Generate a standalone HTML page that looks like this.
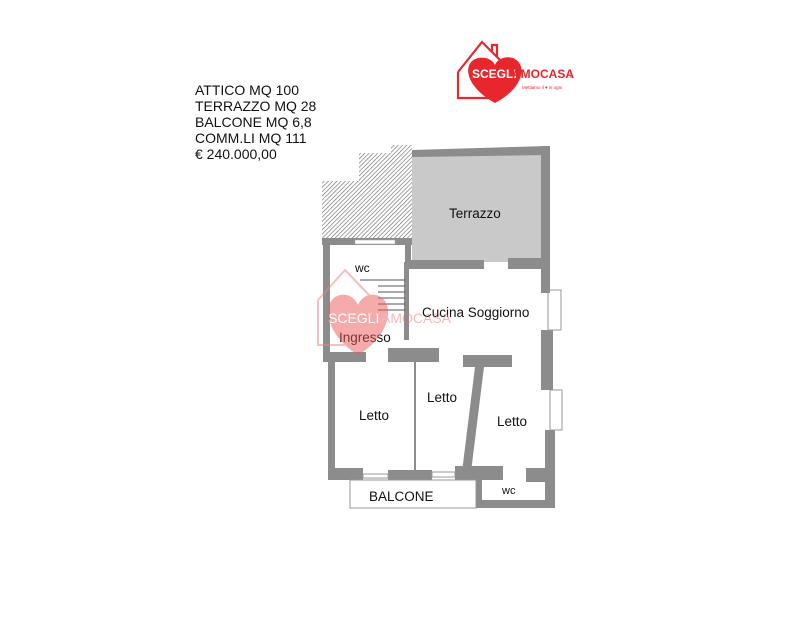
<!DOCTYPE html>
<html><head><meta charset="utf-8"><style>
body{margin:0;background:#fff;width:794px;height:630px;overflow:hidden;font-family:"Liberation Sans",Arial,sans-serif}
</style></head><body>
<svg width="794" height="630" viewBox="0 0 794 630" xmlns="http://www.w3.org/2000/svg" font-family="Liberation Sans, Arial, sans-serif">
<defs>
<pattern id="h" width="3" height="3" patternUnits="userSpaceOnUse" patternTransform="rotate(45)">
<rect width="3" height="3" fill="#fff"/><line x1="0" y1="0" x2="0" y2="3" stroke="#666" stroke-width="1.2"/>
</pattern>
</defs>
<g font-size="14" fill="#111">
<text x="195" y="95">ATTICO MQ 100</text>
<text x="195" y="111">TERRAZZO MQ 28</text>
<text x="195" y="127">BALCONE MQ 6,8</text>
<text x="195" y="143">COMM.LI MQ 111</text>
<text x="195" y="159">€ 240.000,00</text>
</g>
<g>
<path d="M458 72 L458 98 L493 98 M458 72 L482 42 L506 66 M492 51 L492 45 L497 45 L497 57" fill="none" stroke="#e8262d" stroke-width="2.2"/>
<path d="M495 103 C464 86 462 62 478 58 C488 56 494 62 495 65 C496 61 503 55 513 58 C528 64 524 88 495 103Z" fill="#e8262d"/>
<text x="472" y="78" font-size="12" font-weight="bold" fill="#fff">SCEGLI</text>
<text x="512" y="78" font-size="12" font-weight="bold" fill="#e8262d">AMOCASA</text>
<text x="568" y="78" font-size="6" fill="#e8262d">.it</text>
<text x="522" y="89" font-size="4.5" fill="#e8262d">Mettiamo il ♥ in ogni</text>
</g>
<polygon points="391,145 412,145 412,238 322,238 322,181 359,181 359,153 391,153" fill="url(#h)"/>
<rect x="412" y="155" width="132" height="107" fill="#c9c9c9"/>
<g fill="#8c8c8c">
<polygon points="412,150 548,146 548,155 412,157"/>
<rect x="541" y="146" width="9" height="147"/>
<rect x="405" y="238" width="6" height="25"/>
<rect x="405" y="260" width="79" height="9"/>
<rect x="508" y="258" width="40" height="11"/>
<rect x="541" y="330" width="12" height="60"/>
<rect x="545" y="430" width="10" height="78"/>
<rect x="323" y="238" width="7" height="124"/>
<rect x="404" y="262" width="5" height="78"/>
<rect x="323" y="352" width="43" height="10"/>
<rect x="388" y="348" width="51" height="14"/>
<rect x="463" y="355" width="49" height="12"/>
<rect x="328" y="360" width="7" height="115"/>
<polygon points="475,367 484,367 471,472 462,472"/>
<rect x="328" y="468" width="35" height="12"/>
<rect x="388" y="470" width="44" height="10"/>
<rect x="455" y="466" width="48" height="14"/>
<rect x="526" y="468" width="29" height="14"/>
<rect x="476" y="470" width="6" height="38"/>
<rect x="476" y="500" width="79" height="8"/>
<rect x="541" y="340" width="12" height="10"/>
</g>
<rect x="322" y="238" width="90" height="7" fill="#8c8c8c"/>
<rect x="355" y="240" width="40" height="4" fill="#fff" stroke="#aaa" stroke-width="0.5"/>
<line x1="415" y1="362" x2="415" y2="470" stroke="#8c8c8c" stroke-width="2"/>
<g stroke="#555" stroke-width="1">
<line x1="360" y1="280" x2="405" y2="280"/>
<line x1="378" y1="286" x2="405" y2="286"/>
<line x1="378" y1="292" x2="405" y2="292"/>
<line x1="378" y1="298" x2="405" y2="298"/>
<line x1="378" y1="304" x2="405" y2="304"/>
<line x1="378" y1="310" x2="405" y2="310"/>
</g>
<g fill="none" stroke="#999" stroke-width="1">
<rect x="548" y="290" width="13" height="40"/>
<rect x="550" y="390" width="12" height="40"/>
<rect x="350" y="480" width="126" height="28"/>
<rect x="432" y="472" width="23" height="5"/>
<rect x="363" y="474" width="25" height="4"/>
</g>
<g font-size="13.5" fill="#111">
<text x="449" y="218">Terrazzo</text>
<text x="355" y="272" font-size="12">wc</text>
<text x="422" y="317">Cucina Soggiorno</text>
<text x="339" y="342">Ingresso</text>
<text x="359" y="420">Letto</text>
<text x="427" y="402">Letto</text>
<text x="497" y="426">Letto</text>
<text x="369" y="501">BALCONE</text>
<text x="502" y="494" font-size="11">wc</text>
</g>
<g opacity="0.5">
<path d="M318 300 L318 345 L345 345 M318 300 L345 270 L372 298" fill="none" stroke="#f08080" stroke-width="2"/>
<path d="M358 355 C325 335 320 300 340 295 C350 293 356 300 358 305 C360 300 366 293 376 295 C396 300 392 335 358 355Z" fill="#ef5a5a"/>
<text x="328" y="323" font-size="14" fill="#fff">SCEGLI</text>
<text x="381" y="323" font-size="14" fill="#f07070">AMOCASA</text>
</g>
</svg>
</body></html>
